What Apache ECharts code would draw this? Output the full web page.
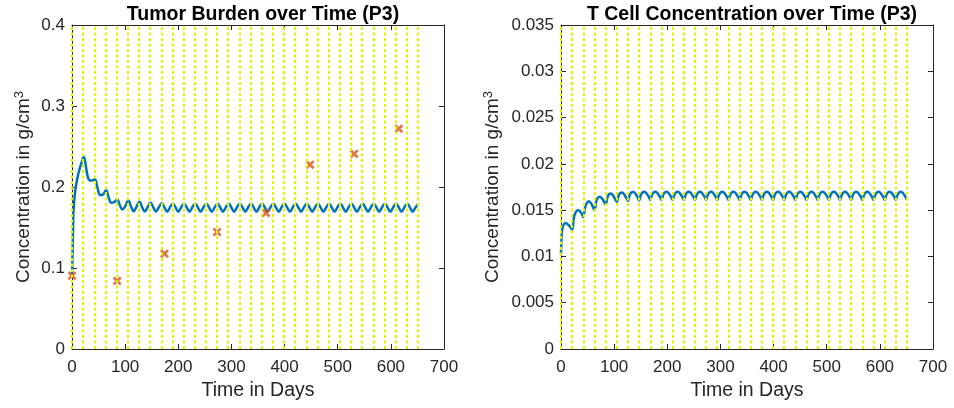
<!DOCTYPE html>
<html>
<head>
<meta charset="utf-8">
<script src="https://cdn.jsdelivr.net/npm/echarts@6/dist/echarts.min.js"></script>
<style>
html,body{margin:0;padding:0;background:#fff;}
#chart{width:954px;height:408px;}
</style>
</head>
<body>
<div id="chart"></div>
<script>
// ---------- data ----------
var xTicks = [0, 100, 200, 300, 400, 500, 600, 700];
var tumorTicks = [0, 0.1, 0.2, 0.3, 0.4];
var tcellTicks = [0, 0.005, 0.01, 0.015, 0.02, 0.025, 0.03, 0.035];

var doseDays = [0, 21, 42, 63, 84, 105, 126, 147, 168, 189, 210, 231, 252, 273, 294, 315,
  336, 357, 378, 399, 420, 441, 462, 483, 504, 525, 546, 567, 588, 609, 630, 651];

var measureDays = [0, 85, 174, 273, 365, 448, 531, 615];
var measureVals = [0.0905, 0.0840, 0.1177, 0.1444, 0.1680, 0.2275, 0.2410, 0.2720];

var tumorDays = [0, 1, 2, 3, 6, 9, 11, 15, 19, 22, 24, 27, 30, 33, 37,
  43, 48, 53, 58, 64, 69, 74, 79, 85, 90, 95, 100, 106, 111, 116, 121, 127, 132, 137, 142,
  148, 153, 158, 163, 169, 174, 179, 184, 190, 195, 200, 205, 211, 216, 221, 226,
  232, 237, 242, 247, 253, 258, 263, 268, 274, 279, 284, 289, 295, 300, 305, 310,
  316, 321, 326, 331, 337, 342, 347, 352, 358, 363, 368, 373, 379, 384, 389, 394,
  400, 405, 410, 415, 421, 426, 431, 436, 442, 447, 452, 457, 463, 468, 473, 478,
  484, 489, 494, 499, 505, 510, 515, 520, 526, 531, 536, 541, 547, 552, 557, 562,
  568, 573, 578, 583, 589, 594, 599, 604, 610, 615, 620, 625, 631, 636, 641, 646, 651];
var tumorVals = [0.090, 0.118, 0.150, 0.172, 0.195, 0.207, 0.214, 0.224, 0.232, 0.2372, 0.234, 0.222, 0.212, 0.2085, 0.2080,
  0.2095, 0.1985, 0.1900, 0.1905, 0.1959, 0.1870, 0.1806, 0.1810, 0.1848, 0.1775, 0.1723, 0.1760, 0.1836, 0.1762, 0.1702, 0.1752, 0.1819, 0.1750, 0.1697, 0.1748,
  0.1806, 0.1748, 0.1696, 0.1745, 0.1798, 0.1746, 0.1695, 0.1745, 0.1794, 0.1745, 0.1695, 0.1745, 0.1794, 0.1745, 0.1695, 0.1745,
  0.1794, 0.1745, 0.1695, 0.1745, 0.1794, 0.1745, 0.1695, 0.1745, 0.1794, 0.1745, 0.1695, 0.1745, 0.1794, 0.1745, 0.1695, 0.1745,
  0.1794, 0.1745, 0.1695, 0.1745, 0.1794, 0.1745, 0.1695, 0.1745, 0.1794, 0.1745, 0.1695, 0.1745, 0.1794, 0.1745, 0.1695, 0.1745,
  0.1794, 0.1745, 0.1695, 0.1745, 0.1794, 0.1745, 0.1695, 0.1745, 0.1794, 0.1745, 0.1695, 0.1745, 0.1794, 0.1745, 0.1695, 0.1745,
  0.1794, 0.1745, 0.1695, 0.1745, 0.1794, 0.1745, 0.1695, 0.1745, 0.1794, 0.1745, 0.1695, 0.1745, 0.1794, 0.1745, 0.1695, 0.1745,
  0.1794, 0.1745, 0.1695, 0.1745, 0.1794, 0.1745, 0.1695, 0.1745, 0.1794, 0.1745, 0.1695, 0.1745, 0.1794, 0.1745, 0.1695, 0.1745, 0.1785];

var tcellDays = [0, 1, 2, 4, 8, 14, 21, 24, 27, 32, 37, 42, 45, 48, 52, 57, 63, 66, 69, 73, 78, 84, 87, 90, 94, 99, 105,
  108, 111, 115, 119, 123, 126, 129, 132, 136, 140, 144, 147, 150, 153, 157, 161, 165, 168,
  171, 174, 178, 182, 186, 189, 192, 195, 199, 203, 207, 210, 213, 216, 220, 224, 228, 231,
  234, 237, 241, 245, 249, 252, 255, 258, 262, 266, 270, 273, 276, 279, 283, 287, 291, 294,
  297, 300, 304, 308, 312, 315, 318, 321, 325, 329, 333, 336, 339, 342, 346, 350, 354, 357,
  360, 363, 367, 371, 375, 378, 381, 384, 388, 392, 396, 399, 402, 405, 409, 413, 417, 420,
  423, 426, 430, 434, 438, 441, 444, 447, 451, 455, 459, 462, 465, 468, 472, 476, 480, 483,
  486, 489, 493, 497, 501, 504, 507, 510, 514, 518, 522, 525, 528, 531, 535, 539, 543, 546,
  549, 552, 556, 560, 564, 567, 570, 573, 577, 581, 585, 588, 591, 594, 598, 602, 606, 609,
  612, 615, 619, 623, 627, 630, 633, 636, 640, 644, 648, 651];
var tcellVals = [0.0102, 0.0120, 0.0128, 0.0133, 0.0136, 0.0134, 0.0129, 0.0141, 0.0147, 0.0150, 0.0148, 0.01426,
  0.0152, 0.0157, 0.01595, 0.0157, 0.0150, 0.0159, 0.0163, 0.01645, 0.0162, 0.0156, 0.0163, 0.0167, 0.0168, 0.0165, 0.0159,
  0.0165, 0.0168, 0.0169, 0.0167, 0.0163, 0.0160, 0.0166, 0.0169, 0.01697, 0.0168, 0.0164, 0.01605, 0.0166, 0.0169, 0.0170, 0.0168, 0.01645, 0.0161,
  0.0166, 0.0169, 0.0170, 0.0168, 0.01645, 0.0161, 0.0166, 0.0169, 0.0170, 0.0168, 0.01645, 0.0161, 0.0166, 0.0169, 0.0170, 0.0168, 0.01645, 0.0161,
  0.0166, 0.0169, 0.0170, 0.0168, 0.01645, 0.0161, 0.0166, 0.0169, 0.0170, 0.0168, 0.01645, 0.0161, 0.0166, 0.0169, 0.0170, 0.0168, 0.01645, 0.0161,
  0.0166, 0.0169, 0.0170, 0.0168, 0.01645, 0.0161, 0.0166, 0.0169, 0.0170, 0.0168, 0.01645, 0.0161, 0.0166, 0.0169, 0.0170, 0.0168, 0.01645, 0.0161,
  0.0166, 0.0169, 0.0170, 0.0168, 0.01645, 0.0161, 0.0166, 0.0169, 0.0170, 0.0168, 0.01645, 0.0161, 0.0166, 0.0169, 0.0170, 0.0168, 0.01645, 0.0161,
  0.0166, 0.0169, 0.0170, 0.0168, 0.01645, 0.0161, 0.0166, 0.0169, 0.0170, 0.0168, 0.01645, 0.0161, 0.0166, 0.0169, 0.0170, 0.0168, 0.01645, 0.0161,
  0.0166, 0.0169, 0.0170, 0.0168, 0.01645, 0.0161, 0.0166, 0.0169, 0.0170, 0.0168, 0.01645, 0.0161, 0.0166, 0.0169, 0.0170, 0.0168, 0.01645, 0.0161,
  0.0166, 0.0169, 0.0170, 0.0168, 0.01645, 0.0161, 0.0166, 0.0169, 0.0170, 0.0168, 0.01645, 0.0161, 0.0166, 0.0169, 0.0170, 0.0168, 0.01645, 0.0161,
  0.0166, 0.0169, 0.0170, 0.0168, 0.01645, 0.0161, 0.0166, 0.0169, 0.0170, 0.0168, 0.01645, 0.0161];

// ---------- styling ----------
var FONT = "'Liberation Sans', Arial, Helvetica, sans-serif";
var AX = '#262626';
var BLUE = '#0072BD';
var RED = '#D95319';
var YEL = '#E2F200';
var XMARK = 'path://M0,2.1L2.1,0L5,2.9L7.9,0L10,2.1L7.1,5L10,7.9L7.9,10L5,7.1L2.1,10L0,7.9L2.9,5Z';

function zip(a, b) { return a.map(function (v, i) { return [v, b[i]]; }); }

function xAxisMain(gi) {
  return {
    type: 'value', gridIndex: gi, min: xTicks[0], max: xTicks[xTicks.length - 1], interval: 100,
    name: 'Time in Days', nameLocation: 'middle', nameGap: 32,
    nameTextStyle: { fontFamily: FONT, fontSize: 19.5, color: AX },
    axisLine: { show: true, onZero: false, lineStyle: { color: AX, width: 1 } },
    axisTick: { show: true, inside: true, length: 5, lineStyle: { color: AX } },
    axisLabel: { fontFamily: FONT, fontSize: 17, color: AX, margin: 10 },
    splitLine: { show: false }
  };
}
function xAxisTop(gi) {
  return {
    type: 'value', gridIndex: gi, position: 'top', min: 0, max: 700, interval: 100,
    axisLine: { show: true, onZero: false, lineStyle: { color: AX, width: 1 } },
    axisTick: { show: true, inside: true, length: 5, lineStyle: { color: AX } },
    axisLabel: { show: false }, splitLine: { show: false }
  };
}
function yAxisMain(gi, ticks, interval, gap) {
  return {
    type: 'value', gridIndex: gi, min: ticks[0], max: ticks[ticks.length - 1], interval: interval,
    name: '{a|Concentration in g/cm}{s|3}', nameLocation: 'middle', nameGap: gap, nameRotate: 90,
    nameTextStyle: {
      fontFamily: FONT, color: AX,
      rich: {
        a: { fontFamily: FONT, fontSize: 19, color: AX },
        s: { fontFamily: FONT, fontSize: 13, color: AX, padding: [0, 0, 9, 0] }
      }
    },
    axisLine: { show: true, onZero: false, lineStyle: { color: AX, width: 1 } },
    axisTick: { show: true, inside: true, length: 5, lineStyle: { color: AX } },
    axisLabel: { fontFamily: FONT, fontSize: 17, color: AX, margin: 7 },
    splitLine: { show: false }
  };
}
function yAxisRight(gi, ticks, interval) {
  return {
    type: 'value', gridIndex: gi, position: 'right', min: ticks[0], max: ticks[ticks.length - 1], interval: interval,
    axisLine: { show: true, onZero: false, lineStyle: { color: AX, width: 1 } },
    axisTick: { show: true, inside: true, length: 5, lineStyle: { color: AX } },
    axisLabel: { show: false }, splitLine: { show: false }
  };
}
function doseLines(xi, yi) {
  return {
    type: 'line', xAxisIndex: xi, yAxisIndex: yi, data: [], z: 5, silent: true,
    markLine: {
      silent: true, symbol: ['none', 'none'], animation: false,
      label: { show: false },
      lineStyle: { color: YEL, width: 2.2, type: [3, 2.5] },
      data: doseDays.map(function (d) { return { xAxis: d }; })
    }
  };
}

var chart = echarts.init(document.getElementById('chart'), null, { renderer: 'canvas' });
chart.setOption({
  animation: false,
  backgroundColor: '#ffffff',
  title: [
    { text: 'Tumor Burden over Time (P3)', left: 258, top: 0, textAlign: 'center',
      textStyle: { fontFamily: FONT, fontSize: 19.5, fontWeight: 'bold', color: '#000' } },
    { text: 'T Cell Concentration over Time (P3)', left: 747, top: 0, textAlign: 'center',
      textStyle: { fontFamily: FONT, fontSize: 19.5, fontWeight: 'bold', color: '#000' } }
  ],
  grid: [
    { left: 72, right: 510, top: 25, bottom: 59, containLabel: false },
    { left: 561, right: 21, top: 25, bottom: 59, containLabel: false }
  ],
  xAxis: [xAxisMain(0), xAxisTop(0), xAxisMain(1), xAxisTop(1)],
  yAxis: [yAxisMain(0, tumorTicks, 0.1, 37), yAxisRight(0, tumorTicks, 0.1),
          yAxisMain(1, tcellTicks, 0.005, 57), yAxisRight(1, tcellTicks, 0.005)],
  series: [
    {
      type: 'line', xAxisIndex: 0, yAxisIndex: 0, data: zip(tumorDays, tumorVals),
      smooth: 0.4, showSymbol: false, z: 3,
      lineStyle: { color: BLUE, width: 2.5 }
    },
    {
      type: 'scatter', xAxisIndex: 0, yAxisIndex: 0, data: zip(measureDays, measureVals),
      symbol: XMARK, symbolSize: 9, z: 4,
      itemStyle: { color: RED }
    },
    doseLines(0, 0),
    {
      type: 'line', xAxisIndex: 2, yAxisIndex: 2, data: zip(tcellDays, tcellVals),
      smooth: 0.35, showSymbol: false, z: 3,
      lineStyle: { color: BLUE, width: 2.5 }
    },
    doseLines(2, 2)
  ]
});
</script>
</body>
</html>
